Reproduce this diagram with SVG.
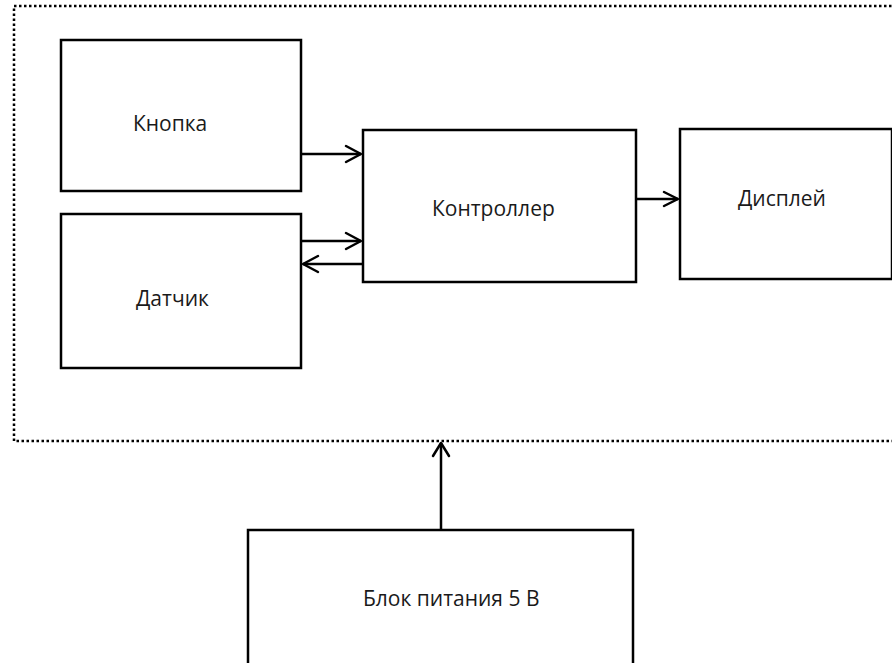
<svg xmlns="http://www.w3.org/2000/svg" width="892" height="663" viewBox="0 0 892 663">
<defs>
<style>
.box{fill:#fff;stroke:#000;stroke-width:2.5}
.frame{fill:none;stroke:#000;stroke-width:2.5;stroke-dasharray:2.5 2.5}
.lbl{font-family:"Open Sans","Liberation Sans",sans-serif;font-size:21px;fill:#1a1a1a}
.con{stroke:#000;stroke-width:2.5;fill:none}
.ah{stroke:#000;stroke-width:2.5;fill:none;stroke-linecap:round;stroke-linejoin:round}
</style>
</defs>
<rect width="892" height="663" fill="#fff"/>
<rect class="frame" x="14" y="6" width="900" height="435"/>
<g id="knopka"><rect class="box" x="61" y="40" width="240" height="151"/><text class="lbl" x="133" y="131">Кнопка</text></g>
<g id="datchik"><rect class="box" x="61" y="214" width="240" height="154"/><text class="lbl" x="136" y="306">Датчик</text></g>
<g id="kontroller"><rect class="box" x="363" y="130" width="273" height="152"/><text class="lbl" x="432" y="216">Контроллер</text></g>
<g id="displei"><rect class="box" x="680" y="129" width="212" height="150"/><text class="lbl" x="738" y="206">Дисплей</text></g>
<g id="blok"><rect class="box" x="248" y="530" width="385" height="140"/><text class="lbl" x="363" y="606">Блок питания 5 В</text></g>
<g id="connectors">
<line class="con" x1="301" y1="154" x2="361" y2="154"/><polyline class="ah" points="346,146 361,154 346,162"/>
<line class="con" x1="301" y1="241" x2="361" y2="241"/><polyline class="ah" points="346,233 361,241 346,249"/>
<line class="con" x1="363" y1="264" x2="303" y2="264"/><polyline class="ah" points="318,256 303,264 318,272"/>
<line class="con" x1="636" y1="199" x2="678" y2="199"/><polyline class="ah" points="664,192 678,199 664,206"/>
<line class="con" x1="441" y1="530" x2="441" y2="443"/><polyline class="ah" points="433,456 441,443 449,456"/>
</g>
</svg>
